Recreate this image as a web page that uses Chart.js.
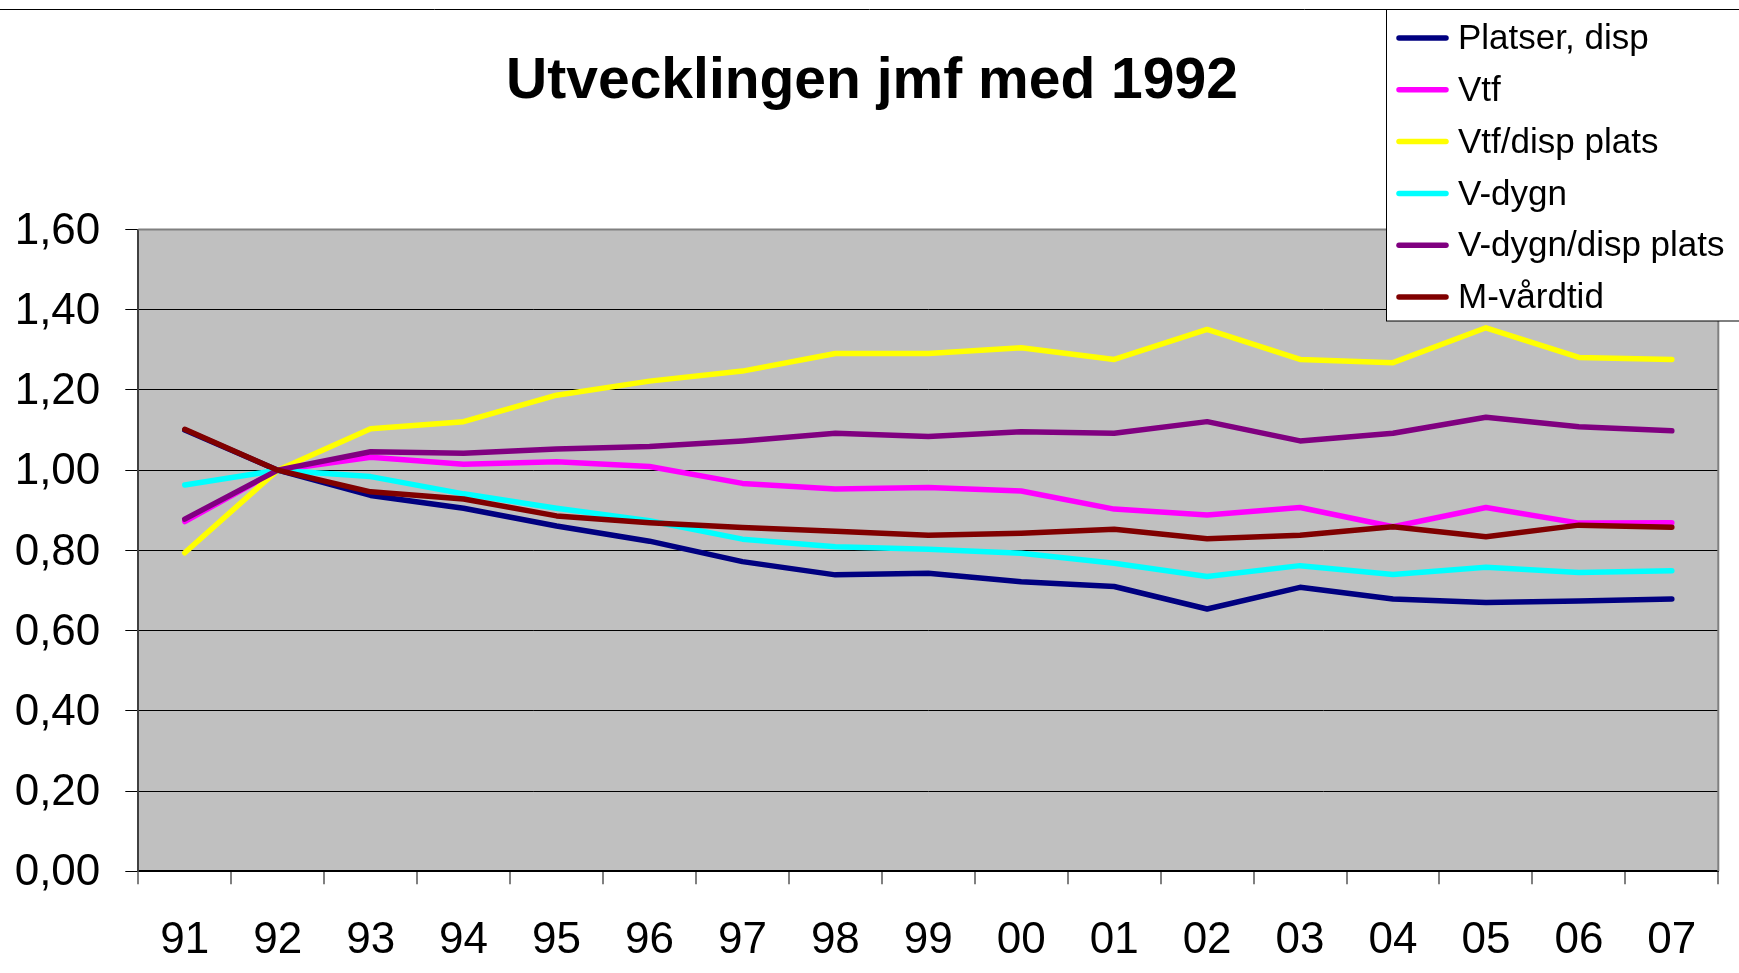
<!DOCTYPE html>
<html>
<head>
<meta charset="utf-8">
<script src="https://cdn.jsdelivr.net/npm/chart.js@4.4.0/dist/chart.umd.min.js"></script>
<style>
html,body{margin:0;padding:0;background:#fff;}
canvas{display:block;}
</style>
</head>
<body>
<canvas id="c" width="1739" height="973" style="width:1739px;height:973px"></canvas>
<script>
const titleText = 'Utvecklingen jmf med 1992';
const categories = ['91','92','93','94','95','96','97','98','99','00','01','02','03','04','05','06','07'];
const yTickLabels = ['0,00','0,20','0,40','0,60','0,80','1,00','1,20','1,40','1,60'];
const seriesNames = ['Platser, disp','Vtf','Vtf/disp plats','V-dygn','V-dygn/disp plats','M-vårdtid'];
const seriesColors = ['#000080','#FF00FF','#FFFF00','#00FFFF','#800080','#800000'];

const platserDisp = [1.100,1.000,0.937,0.905,0.861,0.823,0.772,0.739,0.743,0.722,0.710,0.654,0.708,0.679,0.670,0.674,0.679];
const vtf         = [0.872,1.000,1.032,1.015,1.021,1.009,0.967,0.953,0.957,0.948,0.903,0.888,0.907,0.859,0.907,0.868,0.869];
const vtfDisp     = [0.794,1.000,1.103,1.121,1.187,1.222,1.247,1.291,1.291,1.305,1.276,1.351,1.276,1.268,1.355,1.281,1.276];
const vDygn       = [0.963,1.000,0.984,0.941,0.905,0.874,0.828,0.809,0.803,0.793,0.768,0.735,0.762,0.740,0.758,0.745,0.749];
const vDygnDisp   = [0.878,1.000,1.046,1.042,1.053,1.059,1.073,1.092,1.084,1.096,1.092,1.121,1.073,1.092,1.132,1.108,1.098];
const mVardtid    = [1.102,1.000,0.946,0.928,0.886,0.869,0.857,0.848,0.838,0.843,0.853,0.829,0.838,0.859,0.834,0.863,0.858];

const seriesData = [platserDisp, vtf, vtfDisp, vDygn, vDygnDisp, mVardtid];
const FONT = "'Liberation Sans', Arial, Helvetica, sans-serif";

const datasets = seriesData.map((d, i) => ({
  label: seriesNames[i],
  data: d,
  borderColor: seriesColors[i],
  backgroundColor: seriesColors[i],
  borderWidth: 5.5,
  pointRadius: 0,
  pointHoverRadius: 0,
  tension: 0,
  fill: false,
  borderCapStyle: 'round',
  borderJoinStyle: 'round',
  order: seriesData.length - i
}));

const decor = {
  id: 'decor',
  beforeDraw(chart) {
    const {ctx, chartArea: a} = chart;
    ctx.save();
    ctx.fillStyle = '#C0C0C0';
    ctx.fillRect(a.left, a.top, a.right - a.left, a.bottom - a.top);
    ctx.restore();
  },
  afterDraw(chart) {
    const {ctx, chartArea: a} = chart;
    ctx.save();
    // plot border (top/right)
    ctx.strokeStyle = '#808080';
    ctx.lineWidth = 2;
    ctx.beginPath();
    ctx.moveTo(a.left, a.top);
    ctx.lineTo(a.right, a.top);
    ctx.lineTo(a.right, a.bottom);
    ctx.stroke();
    // title
    ctx.fillStyle = '#000';
    ctx.font = "bold 57px " + FONT;
    ctx.textAlign = 'center';
    ctx.textBaseline = 'middle';
    ctx.fillText(titleText, 872, 82);
    // outer top line
    ctx.strokeStyle = '#000';
    ctx.lineWidth = 1;
    ctx.beginPath();
    ctx.moveTo(0, 9.5);
    ctx.lineTo(chart.width, 9.5);
    ctx.stroke();
    // legend box
    const lx = 1386.5, ly = 9.5, lh = 311.5;
    ctx.fillStyle = '#fff';
    ctx.fillRect(lx, ly, chart.width - lx + 10, lh);
    ctx.strokeStyle = '#000';
    ctx.lineWidth = 1;
    ctx.strokeRect(lx, ly, chart.width - lx + 10, lh);
    ctx.font = "35px " + FONT;
    ctx.textAlign = 'left';
    ctx.textBaseline = 'middle';
    chart.data.datasets.forEach((ds, i) => {
      const y = 38 + i * 51.8;
      ctx.strokeStyle = ds.borderColor;
      ctx.lineWidth = 5.5;
      ctx.lineCap = 'round';
      ctx.beginPath();
      ctx.moveTo(1399, y);
      ctx.lineTo(1446, y);
      ctx.stroke();
      ctx.fillStyle = '#000';
      ctx.fillText(ds.label, 1458, y + 1.5);
    });
    ctx.restore();
  }
};

new Chart(document.getElementById('c'), {
  type: 'line',
  data: { labels: categories, datasets },
  options: {
    responsive: false,
    animation: false,
    devicePixelRatio: 1,
    layout: { padding: { top: 229.5, right: 20.7, left: 0, bottom: 0 } },
    plugins: {
      legend: { display: false },
      title: { display: false },
      tooltip: { enabled: false }
    },
    scales: {
      x: {
        type: 'category',
        offset: true,
        grid: { drawOnChartArea: false, drawTicks: true, tickLength: 13, color: '#808080', lineWidth: 2, offset: true },
        border: { color: '#000', width: 2 },
        ticks: { color: '#000', font: { size: 44, family: FONT }, padding: 30, maxRotation: 0, autoSkip: false },
        afterFit(s) { s.height = 101.7; }
      },
      y: {
        min: 0, max: 1.6,
        grid: { color: '#000', lineWidth: 1, tickLength: 13 },
        border: { color: '#404040', width: 2 },
        ticks: {
          stepSize: 0.2, color: '#000', font: { size: 44, family: FONT }, padding: 25, labelOffset: 2,
          callback: (v, i) => yTickLabels[i]
        },
        afterFit(s) { s.width = 138.3; }
      }
    }
  },
  plugins: [decor]
});
</script>
</body>
</html>
